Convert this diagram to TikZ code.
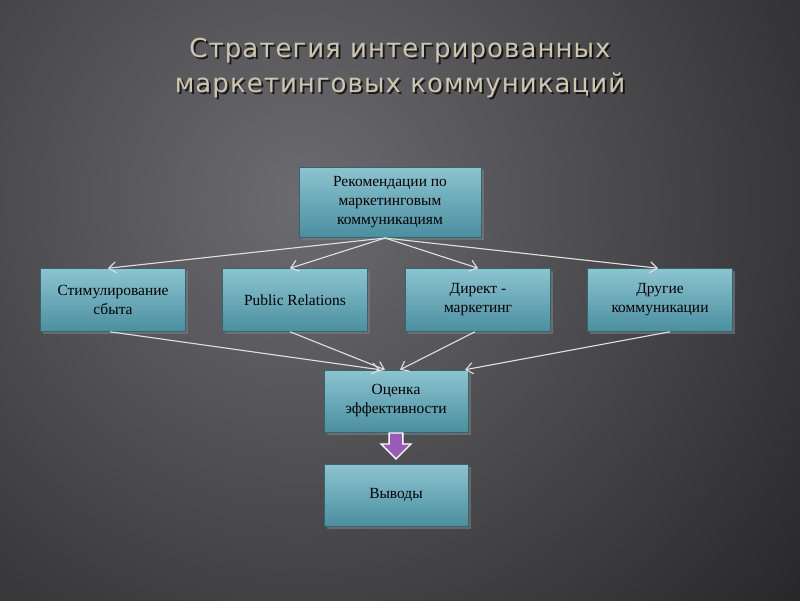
\documentclass[tikz,border=0pt]{standalone}
\usepackage{fontspec}
\setmainfont{Liberation Serif}
\newfontfamily\titlefont[LetterSpace=4]{DejaVu Sans}
\usetikzlibrary{shadows,arrows.meta,shapes.arrows}
\definecolor{boxtop}{HTML}{8CC4D0}
\definecolor{boxbot}{HTML}{4A8FA0}
\definecolor{titlec}{HTML}{CFC6AE}
\definecolor{bgin}{HTML}{6C6C70}
\definecolor{bgout}{HTML}{1C1C1E}
\definecolor{purp}{HTML}{9A5AB8}
\tikzset{
 box/.style={draw=boxbot!70!black, line width=0.4pt, top color=boxtop, bottom color=boxbot, minimum width=145*0.025cm, minimum height=63*0.025cm, align=center, font=\fontsize{11}{13.5}\selectfont, drop shadow={opacity=0.6, shadow xshift=2pt, shadow yshift=-2pt}},
 conn/.style={draw=gray!25, line width=0.8pt, -{Straight Barb[length=5pt,width=8pt]}}
}
\begin{document}
\begin{tikzpicture}[x=0.025cm,y=-0.025cm]
\useasboundingbox (0,0) rectangle (800,600);
\begin{scope}
\clip (0,0) rectangle (800,600);
\shade[inner color=bgin, outer color=bgout] (-450,-550) rectangle (1050,950);
\end{scope}
\node[text=black, opacity=0.7, font=\titlefont\fontsize{18.5}{25}\selectfont, align=center] at (402,70) {Стратегия интегрированных\\маркетинговых коммуникаций};
\node (title)[text=titlec, font=\titlefont\fontsize{18.5}{25}\selectfont, align=center] at (400,68) {Стратегия интегрированных\\маркетинговых коммуникаций};
\node (top)[box, minimum width=182*0.025cm, minimum height=70*0.025cm] at (390,202) {Рекомендации по\\маркетинговым\\коммуникациям};
\node (a)[box] at (113,300) {Стимулирование\\сбыта};
\node (b)[box] at (295,300) {Public Relations};
\node (c)[box] at (478,300) {Директ -\\маркетинг};
\node (d)[box] at (660,300) {Другие\\коммуникации};
\node (e)[box, minimum width=144*0.025cm, minimum height=62*0.025cm] at (396,401) {Оценка\\эффективности};
\node (f)[box, minimum width=144*0.025cm, minimum height=62*0.025cm] at (396,495) {Выводы};
\coordinate (s) at (385,238);
\draw[conn] (s) -- ([xshift=-5*0.025cm]a.north);
\draw[conn] (s) -- ([xshift=-5*0.025cm]b.north);
\draw[conn] (s) -- (c.north);
\draw[conn] (s) -- ([xshift=-2*0.025cm]d.north);
\draw[conn] ([xshift=-3*0.025cm]a.south) -- ([xshift=-16*0.025cm]e.north);
\draw[conn] ([xshift=-5*0.025cm]b.south) -- ([xshift=-11*0.025cm]e.north);
\draw[conn] ([xshift=-3*0.025cm]c.south) -- ([xshift=4*0.025cm]e.north);
\draw[conn] ([xshift=10*0.025cm]d.south) -- ([xshift=69*0.025cm]e.north);
\node[single arrow, shape border rotate=270, draw=white, line width=1pt, fill=purp, minimum height=26*0.025cm, minimum width=30*0.025cm, single arrow head extend=3pt, inner sep=2pt, anchor=tail] at (e.south) {};
\end{tikzpicture}
\end{document}
